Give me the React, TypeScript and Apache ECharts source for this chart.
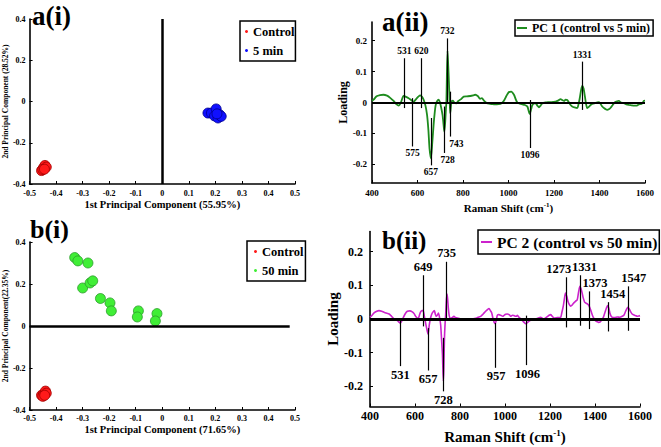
import React, { useEffect, useRef } from 'react';
import * as echarts from 'echarts';

// ---------- DATA ----------
const controlA: number[][] = [[-0.455, -0.335], [-0.448, -0.322], [-0.442, -0.31], [-0.437, -0.318], [-0.45, -0.33], [-0.444, -0.328]];
const min5: number[][] = [[0.172, -0.056], [0.185, -0.056], [0.203, -0.036], [0.197, -0.07], [0.21, -0.08], [0.216, -0.064], [0.222, -0.072], [0.206, -0.06]];
const controlB: number[][] = [[-0.455, -0.33], [-0.448, -0.325], [-0.44, -0.31], [-0.437, -0.32], [-0.45, -0.335], [-0.443, -0.33]];
const min50: number[][] = [[-0.33, 0.326], [-0.318, 0.31], [-0.28, 0.3], [-0.3, 0.181], [-0.272, 0.205], [-0.262, 0.215], [-0.233, 0.131], [-0.197, 0.11], [-0.192, 0.072], [-0.09, 0.072], [-0.094, 0.043], [-0.02, 0.059], [-0.026, 0.024]];

const pc1Shift = [400, 407, 420, 435, 450, 466, 480, 495, 507, 517, 527, 539, 550, 561, 572, 583, 595, 605, 612, 620, 627, 635, 642, 648, 653, 659, 665, 671, 676, 680, 686, 693, 698, 703, 710, 715, 718, 722, 725, 727, 729, 732, 735, 738, 741, 744, 747, 749, 755, 762, 770, 778, 790, 803, 818, 832, 845, 854, 866, 875, 883, 893, 905, 915, 927, 940, 957, 968, 979, 990, 1001, 1012, 1024, 1032, 1039, 1050, 1061, 1072, 1083, 1093, 1100, 1105, 1112, 1119, 1127, 1134, 1141, 1148, 1163, 1178, 1193, 1207, 1218, 1229, 1236, 1244, 1251, 1258, 1266, 1273, 1280, 1290, 1302, 1308, 1313, 1319, 1324, 1330, 1336, 1341, 1346, 1353, 1361, 1370, 1380, 1390, 1398, 1405, 1412, 1420, 1427, 1434, 1441, 1449, 1458, 1468, 1477, 1485, 1495, 1507, 1518, 1529, 1540, 1551, 1562, 1573, 1582, 1588, 1595, 1600];
const pc1Loading = [0.005, 0.009, 0.02, 0.024, 0.025, 0.022, 0.015, 0.005, -0.005, -0.01, 0.0, 0.021, 0.018, 0.014, 0.008, 0.003, 0.012, 0.02, 0.023, 0.018, 0.009, -0.01, -0.04, -0.09, -0.15, -0.18, -0.13, -0.07, -0.03, -0.008, 0.004, 0.009, 0.002, -0.013, -0.04, -0.075, -0.094, -0.06, -0.02, 0.0, 0.08, 0.167, 0.12, 0.068, 0.01, -0.035, -0.01, 0.003, 0.006, 0.0, -0.003, 0.004, 0.01, 0.019, 0.02, 0.021, 0.023, 0.025, 0.02, 0.012, 0.014, 0.005, -0.002, -0.004, -0.005, -0.006, -0.005, -0.003, 0.005, 0.02, 0.033, 0.035, 0.025, 0.01, 0.0, -0.004, -0.006, -0.008, -0.013, -0.037, -0.02, -0.008, -0.003, -0.002, -0.01, -0.016, -0.01, -0.003, 0.0, 0.001, 0.002, 0.003, 0.006, 0.011, 0.008, 0.005, 0.009, 0.008, 0.0, -0.008, -0.013, -0.016, -0.018, -0.005, 0.013, 0.04, 0.054, 0.045, 0.019, -0.005, -0.018, -0.014, -0.008, -0.004, -0.002, 0.0, 0.001, -0.005, -0.013, -0.018, -0.022, -0.024, -0.022, -0.017, -0.008, 0.001, 0.004, 0.005, 0.0, -0.002, -0.006, -0.008, -0.009, -0.01, -0.01, -0.006, -0.005, -0.003, 0.005, 0.006];

const pc2Shift = [400, 410, 418, 430, 440, 452, 462, 475, 485, 493, 500, 510, 522, 530, 535, 541, 547, 556, 566, 577, 588, 596, 603, 610, 615, 620, 625, 631, 636, 641, 645, 651, 658, 663, 668, 672, 677, 686, 690, 695, 700, 704, 709, 714, 718, 722, 726, 728, 731, 734, 736, 739, 742, 745, 748, 752, 756, 765, 773, 780, 788, 800, 810, 830, 850, 870, 880, 892, 903, 914, 922, 929, 935, 941, 947, 952, 956, 961, 966, 973, 981, 990, 996, 1003, 1010, 1020, 1025, 1033, 1040, 1050, 1055, 1062, 1069, 1078, 1085, 1092, 1100, 1106, 1115, 1129, 1145, 1158, 1172, 1188, 1196, 1203, 1210, 1218, 1232, 1247, 1253, 1259, 1264, 1269, 1275, 1280, 1286, 1292, 1299, 1306, 1314, 1321, 1327, 1333, 1338, 1343, 1348, 1354, 1360, 1366, 1373, 1380, 1388, 1395, 1402, 1410, 1416, 1422, 1430, 1437, 1442, 1447, 1452, 1457, 1462, 1466, 1472, 1477, 1488, 1499, 1510, 1521, 1529, 1536, 1541, 1546, 1552, 1558, 1565, 1573, 1580, 1588, 1595, 1600];
const pc2Loading = [0.005, 0.012, 0.018, 0.023, 0.025, 0.023, 0.02, 0.017, 0.015, 0.01, 0.005, -0.001, -0.005, -0.01, -0.012, -0.006, 0.003, 0.015, 0.023, 0.024, 0.021, 0.016, 0.008, 0.003, 0.003, 0.012, 0.021, 0.025, 0.025, 0.01, -0.005, -0.025, -0.045, -0.02, 0.0, 0.01, 0.018, 0.025, 0.015, 0.008, 0.012, 0.018, 0.005, -0.017, -0.06, -0.106, -0.185, -0.15, -0.056, -0.01, 0.01, 0.05, 0.074, 0.06, 0.033, 0.01, 0.002, 0.004, 0.008, 0.004, 0.003, 0.001, 0.0, 0.0, 0.0, 0.002, 0.005, 0.008, 0.015, 0.023, 0.028, 0.031, 0.025, 0.018, 0.0, -0.01, -0.014, -0.005, 0.011, 0.013, 0.011, 0.008, 0.011, 0.014, 0.015, 0.012, 0.008, 0.011, 0.01, 0.008, 0.011, 0.005, 0.001, -0.005, -0.01, -0.014, -0.01, -0.007, -0.004, -0.002, 0.002, 0.005, 0.0, 0.007, 0.011, 0.013, 0.008, 0.003, 0.004, 0.005, 0.02, 0.038, 0.06, 0.077, 0.066, 0.052, 0.043, 0.038, 0.042, 0.048, 0.053, 0.057, 0.08, 0.097, 0.09, 0.077, 0.062, 0.05, 0.047, 0.045, 0.04, 0.028, 0.012, 0.002, -0.005, -0.008, -0.01, -0.009, -0.003, 0.005, 0.015, 0.025, 0.035, 0.04, 0.03, 0.018, 0.008, 0.005, 0.004, 0.006, 0.005, 0.008, 0.012, 0.023, 0.03, 0.035, 0.03, 0.022, 0.015, 0.012, 0.01, 0.008, 0.009, 0.01];

// peak marker lines (label, shift, upper end, lower end, label side)
const a2PeakLabels = ['531', '620', '732', '1331', '575', '657', '728', '743', '1096'];
const a2PeakShift = [542, 617, 731, 1324, 579, 659, 719, 744, 1094];
const a2PeakTop = [0.143, 0.143, 0.207, 0.132, 0.014, -0.05, -0.013, 0.035, 0.008];
const a2PeakBottom = [-0.018, -0.018, 0.0, -0.024, -0.142, -0.203, -0.163, -0.11, -0.147];
const a2PeakUp = [true, true, true, true, false, false, false, false, false];
const a2LabelShiftPx = [0, 0, 0, 0, 0, 0, 3, 6, 0];

const b2PeakLabels = ['649', '735', '1273', '1331', '1373', '1454', '1547', '531', '657', '728', '957', '1096'];
const b2PeakShift = [636, 741, 1274, 1336, 1373, 1457, 1546, 535, 658, 726, 956, 1095];
const b2PeakTop = [0.13, 0.17, 0.124, 0.13, 0.082, 0.05, 0.097, 0.0, -0.027, -0.056, -0.012, 0.01];
const b2PeakBottom = [-0.022, 0.003, -0.025, -0.02, -0.03, -0.037, -0.035, -0.14, -0.153, -0.215, -0.145, -0.137];
const b2PeakUp = [true, true, true, true, true, true, true, false, false, false, false, false];
const b2LabelShiftPx = [0, 0, -8, 4, 6, 5, 6, 0, 0, 0, 1, 1];

const loadingTicks = [-0.2, -0.1, 0, 0.1, 0.2];

const FONT = '"Liberation Serif", "Times New Roman", serif';

function zip(xs: number[], ys: number[]) {
  return xs.map((x, i) => [x, ys[i]]);
}

function peakLines(labels: string[], shift: number[], top: number[], bottom: number[], up: boolean[], dx: number[], fontSize: number) {
  return labels.map((lab, i) => {
    const lo = { coord: [shift[i], bottom[i]] };
    const hi = { coord: [shift[i], top[i]] };
    const pair: any[] = up[i] ? [lo, hi] : [hi, lo];
    const off = dx[i];
    const padding = off > 0 ? [0, 0, 0, 2 * off] : off < 0 ? [0, -2 * off, 0, 0] : 0;
    pair[0] = {
      ...pair[0],
      lineStyle: { color: '#000', width: 1.2, type: 'solid' },
      label: {
        show: true, position: 'end', formatter: lab, distance: 2, padding,
        color: '#000', fontFamily: FONT, fontWeight: 'bold', fontSize,
      },
    };
    return pair;
  });
}

function valueAxisBase(fontSize: number) {
  return {
    axisLine: { show: true, onZero: false, lineStyle: { color: '#000', width: 1.6 } },
    axisTick: { show: true, inside: true, length: 3, lineStyle: { color: '#000', width: 1 } },
    splitLine: { show: false },
    axisLabel: { color: '#000', fontFamily: FONT, fontWeight: 'bold', fontSize },
    nameLocation: 'middle',
    nameTextStyle: { color: '#000', fontFamily: FONT, fontWeight: 'bold' },
  };
}

function fmtLoading(v: number) {
  const r = Math.round(v * 10) / 10;
  if (Math.abs(r - v) > 1e-6) return '';
  return r === 0 ? '0' : String(r);
}
const fmtPlain = (v: number) => String(Math.round(v * 1000) / 1000);

export default function App() {
  const ref = useRef<HTMLDivElement>(null);
  useEffect(() => {
    if (!ref.current) return;
    const chart = echarts.init(ref.current, null, { renderer: 'svg' });
    const b = valueAxisBase;
    const dotLegend = (name: string) => ({ name, icon: 'circle', itemStyle: { borderWidth: 0 } });
    const option: any = {
      animation: false,
      backgroundColor: '#fff',
      grid: [
        { left: 26, top: 19, width: 269, height: 165 },
        { left: 372, top: 22, width: 273, height: 161 },
        { left: 26, top: 242, width: 269, height: 168 },
        { left: 370, top: 231.5, width: 270, height: 175 },
      ],
      xAxis: [
        { ...b(8), type: 'value', gridIndex: 0, min: -0.5, max: 0.5, interval: 0.1,
          axisLabel: { ...b(8).axisLabel, margin: 5, formatter: fmtPlain },
          name: '1st Principal Component (55.95%)', nameGap: 15,
          nameTextStyle: { ...b(8).nameTextStyle, fontSize: 10.5 } },
        { ...b(9), type: 'value', gridIndex: 1, min: 400, max: 1600, interval: 200,
          axisLabel: { ...b(9).axisLabel, margin: 5, formatter: fmtPlain },
          name: '{n|Raman Shift (cm}{s|-1}{n|)}', nameGap: 18,
          nameTextStyle: { ...b(9).nameTextStyle, rich: {
            n: { fontFamily: FONT, fontWeight: 'bold', fontSize: 11, color: '#000', lineHeight: 13 },
            s: { fontFamily: FONT, fontWeight: 'bold', fontSize: 7, color: '#000', verticalAlign: 'top', lineHeight: 13 },
          } } },
        { ...b(8), type: 'value', gridIndex: 2, min: -0.5, max: 0.5, interval: 0.1,
          axisLabel: { ...b(8).axisLabel, margin: 4, formatter: fmtPlain },
          name: '1st Principal Component (71.65%)', nameGap: 14,
          nameTextStyle: { ...b(8).nameTextStyle, fontSize: 10.5 } },
        { ...b(12), type: 'value', gridIndex: 3, min: 400, max: 1600, interval: 200,
          axisLabel: { ...b(12).axisLabel, margin: 3, formatter: fmtPlain },
          name: '{n|Raman Shift (cm}{s|-1}{n|)}', nameGap: 22,
          nameTextStyle: { ...b(12).nameTextStyle, rich: {
            n: { fontFamily: FONT, fontWeight: 'bold', fontSize: 15, color: '#000', lineHeight: 17 },
            s: { fontFamily: FONT, fontWeight: 'bold', fontSize: 9, color: '#000', verticalAlign: 'top', lineHeight: 17 },
          } } },
      ],
      yAxis: [
        { ...b(8), type: 'value', gridIndex: 0, min: -0.4, max: 0.4, interval: 0.2,
          axisLabel: { ...b(8).axisLabel, margin: 4, formatter: fmtPlain },
          name: '2nd Principal Component (28.52%)', nameGap: 15,
          nameTextStyle: { ...b(8).nameTextStyle, fontSize: 7.5 } },
        { ...b(9), type: 'value', gridIndex: 1, min: -0.26, max: 0.26,
          axisLabel: { ...b(9).axisLabel, margin: 5, customValues: loadingTicks, formatter: fmtLoading },
          axisTick: { ...b(9).axisTick, customValues: loadingTicks },
          name: 'Loading', nameGap: 14,
          nameTextStyle: { ...b(9).nameTextStyle, fontSize: 12 } },
        { ...b(8), type: 'value', gridIndex: 2, min: -0.4, max: 0.4, interval: 0.2,
          axisLabel: { ...b(8).axisLabel, margin: 4, formatter: fmtPlain },
          name: '2nd Principal Component(22.35%)', nameGap: 15,
          nameTextStyle: { ...b(8).nameTextStyle, fontSize: 7.5 } },
        { ...b(12), type: 'value', gridIndex: 3, min: -0.26, max: 0.26,
          axisLabel: { ...b(12).axisLabel, margin: 7, customValues: loadingTicks, formatter: fmtLoading },
          axisTick: { ...b(12).axisTick, customValues: loadingTicks },
          name: 'Loading', nameGap: 20,
          nameTextStyle: { ...b(12).nameTextStyle, fontSize: 15 } },
      ],
      legend: [
        { left: 240, top: 21, orient: 'vertical', data: [dotLegend('Control'), dotLegend('5 min')], selectedMode: false,
          borderColor: '#000', borderWidth: 1.5, padding: [4, 1, 4, 5], itemGap: 6,
          itemWidth: 3, itemHeight: 3,
          textStyle: { color: '#000', fontFamily: FONT, fontWeight: 'bold', fontSize: 12.5 } },
        { left: 515, top: 20, data: [{ name: 'PC 1 (control vs 5 min)', icon: 'rect' }], selectedMode: false,
          borderColor: '#000', borderWidth: 1.5, padding: [2, 3, 2, 2],
          itemWidth: 10, itemHeight: 2,
          textStyle: { color: '#000', fontFamily: FONT, fontWeight: 'bold', fontSize: 12 } },
        { left: 247, top: 241, orient: 'vertical', data: [dotLegend('Control'), dotLegend('50 min')], selectedMode: false,
          borderColor: '#000', borderWidth: 1.5, padding: [4, 2, 4, 7], itemGap: 6,
          itemWidth: 3, itemHeight: 3,
          textStyle: { color: '#000', fontFamily: FONT, fontWeight: 'bold', fontSize: 12.5 } },
        { left: 478, top: 230, data: [{ name: 'PC 2 (control vs 50 min)', icon: 'rect' }], selectedMode: false,
          borderColor: '#000', borderWidth: 1.5, padding: [4, 2, 4, 3],
          itemWidth: 11, itemHeight: 2,
          textStyle: { color: '#000', fontFamily: FONT, fontWeight: 'bold', fontSize: 15.5 } },
      ],
      graphic: [
        { type: 'text', left: 32, top: 2, style: { text: 'a(i)', font: `bold 27px ${FONT}`, fill: '#000' } },
        { type: 'text', left: 382, top: 8, style: { text: 'a(ii)', font: `bold 27px ${FONT}`, fill: '#000' } },
        { type: 'text', left: 30, top: 216, style: { text: 'b(i)', font: `bold 26px ${FONT}`, fill: '#000' } },
        { type: 'text', left: 382, top: 228, style: { text: 'b(ii)', font: `bold 25px ${FONT}`, fill: '#000' } },
      ],
      series: [
        { type: 'scatter', name: 'Control', xAxisIndex: 0, yAxisIndex: 0, data: controlA, symbolSize: 10,
          itemStyle: { color: '#ff1a1a', borderColor: '#a00000', borderWidth: 0.8, opacity: 1 },
          markLine: { silent: true, symbol: 'none', label: { show: false },
            lineStyle: { color: '#000', width: 2.5, type: 'solid' }, data: [{ xAxis: 0 }] } },
        { type: 'scatter', name: '5 min', xAxisIndex: 0, yAxisIndex: 0, data: min5, symbolSize: 10,
          itemStyle: { color: '#1010ff', borderColor: '#00008a', borderWidth: 0.8, opacity: 1 } },
        { type: 'line', name: 'PC 1 (control vs 5 min)', xAxisIndex: 1, yAxisIndex: 1,
          data: zip(pc1Shift, pc1Loading), showSymbol: false, smooth: 0.25,
          color: '#1e8c1e', lineStyle: { color: '#1e8c1e', width: 1.8 },
          markLine: { silent: true, symbol: 'none', precision: 3,
            data: [
              [{ coord: [400, 0], lineStyle: { color: '#000', width: 2, type: 'solid' }, label: { show: false } }, { coord: [1600, 0] }],
              ...peakLines(a2PeakLabels, a2PeakShift, a2PeakTop, a2PeakBottom, a2PeakUp, a2LabelShiftPx, 9.5),
            ] } },
        { type: 'scatter', name: 'Control', xAxisIndex: 2, yAxisIndex: 2, data: controlB, symbolSize: 10,
          itemStyle: { color: '#ff1a1a', borderColor: '#a00000', borderWidth: 0.8, opacity: 1 },
          markLine: { silent: true, symbol: 'none', label: { show: false },
            lineStyle: { color: '#000', width: 2.5, type: 'solid' },
            data: [[{ coord: [-0.5, 0] }, { coord: [0.48, 0] }]] } },
        { type: 'scatter', name: '50 min', xAxisIndex: 2, yAxisIndex: 2, data: min50, symbolSize: 10,
          itemStyle: { color: '#40ee36', borderColor: '#2a9a2a', borderWidth: 0.8, opacity: 1 } },
        { type: 'line', name: 'PC 2 (control vs 50 min)', xAxisIndex: 3, yAxisIndex: 3,
          data: zip(pc2Shift, pc2Loading), showSymbol: false, smooth: 0.25,
          color: '#cc22cc', lineStyle: { color: '#cc22cc', width: 1.6 },
          markLine: { silent: true, symbol: 'none', precision: 3,
            data: [
              [{ coord: [400, 0], lineStyle: { color: '#000', width: 3, type: 'solid' }, label: { show: false } }, { coord: [1600, 0] }],
              ...peakLines(b2PeakLabels, b2PeakShift, b2PeakTop, b2PeakBottom, b2PeakUp, b2LabelShiftPx, 12.5),
            ] } },
      ],
    };
    chart.setOption(option);
    return () => chart.dispose();
  }, []);
  return (
    <div ref={ref} style={{ position: 'fixed', left: 0, top: 0, width: 661, height: 447, background: '#fff' }} />
  );
}
